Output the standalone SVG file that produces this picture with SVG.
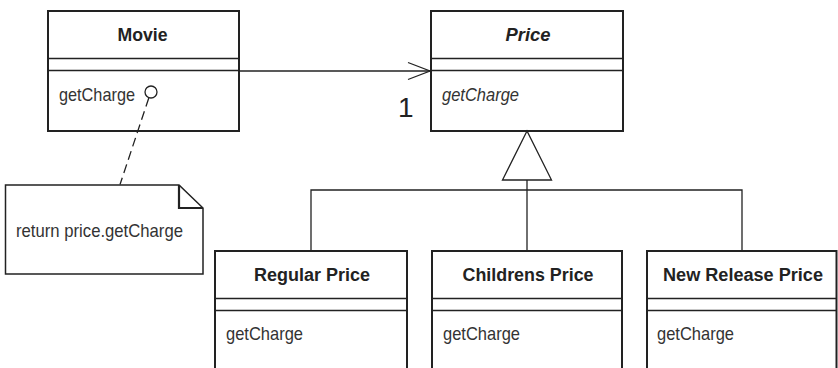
<svg xmlns="http://www.w3.org/2000/svg" width="838" height="368" viewBox="0 0 838 368">
<style>
  .box{fill:#fff;stroke:#222;stroke-width:2}
  .sep{stroke:#222;stroke-width:1.6}
  .conn{fill:none;stroke:#222;stroke-width:1.3}
  .title{font-family:"Liberation Sans",Arial,sans-serif;font-weight:bold;font-size:18px;fill:#222;text-anchor:middle}
  .op{font-family:"Liberation Sans",Arial,sans-serif;font-size:18.5px;fill:#333}
</style>
<rect width="838" height="368" fill="#fff"/>
<g id="movie">
  <rect class="box" x="48" y="11" width="191" height="120"/>
  <line class="sep" x1="48" y1="58.5" x2="239" y2="58.5"/>
  <line class="sep" x1="48" y1="70.5" x2="239" y2="70.5"/>
  <text class="title" x="142.5" y="41" textLength="50" lengthAdjust="spacingAndGlyphs">Movie</text>
  <text class="op" x="59" y="101" textLength="76" lengthAdjust="spacingAndGlyphs">getCharge</text>
  <circle cx="151" cy="92" r="6" fill="#fff" stroke="#222" stroke-width="1.3"/>
</g>
<g id="price">
  <rect class="box" x="431" y="11" width="192" height="120"/>
  <line class="sep" x1="431" y1="58.5" x2="623" y2="58.5"/>
  <line class="sep" x1="431" y1="70.5" x2="623" y2="70.5"/>
  <text class="title" x="528" y="41" font-style="italic" textLength="45" lengthAdjust="spacingAndGlyphs">Price</text>
  <text class="op" x="442" y="101" font-style="italic" textLength="77" lengthAdjust="spacingAndGlyphs">getCharge</text>
</g>
<g id="multiplicity">
  <text x="398" y="117" font-family="'Liberation Sans',Arial,sans-serif" font-size="28" fill="#222">1</text>
</g>
<g id="note">
  <path d="M5.5,185 H179 L203,208 V274 H5.5 Z" fill="#fff" stroke="#222" stroke-width="1.5"/>
  <polyline points="179,185 179,208 203,208" fill="none" stroke="#222" stroke-width="2.2"/>
  <text class="op" x="16" y="236.5" textLength="167" lengthAdjust="spacingAndGlyphs">return price.getCharge</text>
</g>
<g id="regular-price">
  <rect class="box" x="215" y="251" width="192" height="130"/>
  <line class="sep" x1="215" y1="298.5" x2="407" y2="298.5"/>
  <line class="sep" x1="215" y1="310.5" x2="407" y2="310.5"/>
  <text class="title" x="312" y="281" textLength="116" lengthAdjust="spacingAndGlyphs">Regular Price</text>
  <text class="op" x="226" y="340" textLength="77" lengthAdjust="spacingAndGlyphs">getCharge</text>
</g>
<g id="childrens-price">
  <rect class="box" x="432" y="251" width="190" height="130"/>
  <line class="sep" x1="432" y1="298.5" x2="622" y2="298.5"/>
  <line class="sep" x1="432" y1="310.5" x2="622" y2="310.5"/>
  <text class="title" x="528" y="281" textLength="131" lengthAdjust="spacingAndGlyphs">Childrens Price</text>
  <text class="op" x="443" y="340" textLength="77" lengthAdjust="spacingAndGlyphs">getCharge</text>
</g>
<g id="new-release-price">
  <rect class="box" x="647" y="251" width="189.5" height="130"/>
  <line class="sep" x1="647" y1="298.5" x2="836.5" y2="298.5"/>
  <line class="sep" x1="647" y1="310.5" x2="836.5" y2="310.5"/>
  <text class="title" x="743" y="281" textLength="160" lengthAdjust="spacingAndGlyphs">New Release Price</text>
  <text class="op" x="657" y="340" textLength="77" lengthAdjust="spacingAndGlyphs">getCharge</text>
</g>
<g id="connectors">
  <line class="conn" x1="239" y1="71" x2="430" y2="71"/>
  <polyline class="conn" points="408,62.5 430,71 408,79.5"/>
  <polygon class="conn" points="527,131 502.5,180 551.5,180" fill="#fff"/>
  <line class="conn" x1="527" y1="180" x2="527" y2="250"/>
  <polyline class="conn" points="311,250 311,190 742,190 742,250"/>
  <line class="conn" x1="148.8" y1="98" x2="120" y2="184.5" stroke-dasharray="9,5"/>
</g>
</svg>
